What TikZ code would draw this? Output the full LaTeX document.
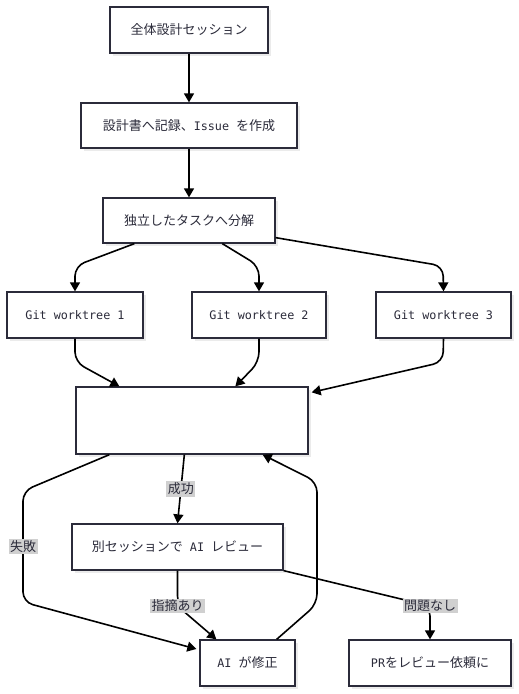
\documentclass[tikz,border=0pt]{standalone}
\usepackage{fontspec}
\setmainfont{Noto Sans CJK JP}
\newfontfamily\latmono{DejaVu Sans Mono}[Scale=0.98]
\usepackage{tikz}
\usetikzlibrary{arrows.meta,calc,positioning,shadows}
\definecolor{boxline}{HTML}{2B2B3A}
\definecolor{lblbg}{HTML}{D0D0D0}
\newcommand{\lt}[1]{{\latmono\fontsize{12}{15}\selectfont #1}}
\tikzset{
  box/.style={draw=boxline,line width=1.3pt,fill=white,text=boxline,inner sep=0pt,
    font=\fontsize{13}{15}\selectfont,
    drop shadow={shadow xshift=2.5pt,shadow yshift=-2.5pt,fill=black,opacity=0.08}},
  flow/.style={line width=1.6pt,-{Triangle[length=9pt,width=10pt]},rounded corners=10pt},
  lbl/.style={rectangle,sharp corners,fill=lblbg,inner sep=1.5pt,text=boxline,font=\fontsize{13}{15}\selectfont}
}
\begin{document}
\begin{tikzpicture}[x=1pt,y=-1pt]
\useasboundingbox[fill=white] (0,0) rectangle (519,694);
\node[box,minimum width=158pt,minimum height=46pt] (kickoff) at (189,30) {全体設計セッション};
\node[box,minimum width=216pt,minimum height=45pt] (record) at (189,125.5) {設計書へ記録、\lt{Issue }を作成};
\node[box,minimum width=172pt,minimum height=45pt] (split) at (189,220.5) {独立したタスクへ分解};
\node[box,minimum width=136pt,minimum height=46pt] (wt1) at (75,315) {\lt{Git worktree 1}};
\node[box,minimum width=134pt,minimum height=46pt] (wt2) at (259,315) {\lt{Git worktree 2}};
\node[box,minimum width=135pt,minimum height=46pt] (wt3) at (443.5,315) {\lt{Git worktree 3}};
\node[box,minimum width=232pt,minimum height=67pt] (impl) at (192,420.5) {};
\node[box,minimum width=211pt,minimum height=46pt] (review) at (177.5,547) {別セッションで\lt{ AI }レビュー};
\node[box,minimum width=95pt,minimum height=46pt] (fix) at (247.5,663) {\lt{AI }が修正};
\node[box,minimum width=162pt,minimum height=46pt] (pr) at (430,663) {\lt{PR}をレビュー依頼に};

\draw[flow] (kickoff) -- (record);
\draw[flow] (record) -- (split);
\draw[flow] ($(split.south west)+(32,0)$) -- (75,266) -- (wt1.north);
\draw[flow] ($(split.south west)+(120,0)$) -- (259,266) -- (wt2.north);
\draw[flow] ($(split.south east)+(0,-6)$) -- (443,266) -- (wt3.north);
\draw[flow] (wt1.south) -- (75,362) -- ($(impl.north west)+(44,0)$);
\draw[flow] (wt2.south) -- (259,362) -- ($(impl.north west)+(160,0)$);
\draw[flow] (wt3.south) -- (443,362) -- ($(impl.north east)+(3,6)$);
\draw[flow] ($(impl.south west)+(109,0)$) -- node[lbl] {成功} (review.north);
\draw[flow] ($(impl.south west)+(34,0)$) -- (23,491) -- node[lbl] {失敗} (23,602) -- ($(fix.west)+(-3,-14)$);
\draw[flow] (review.south) -- (177.5,606) node[lbl] {指摘あり} -- ($(fix.north west)+(17,0)$);
\draw[flow] (review.south east) -- (430,606) node[lbl] {問題なし} -- (pr.north);
\draw[flow] ($(fix.north east)+(-19,0)$) -- (317,604) -- (317,482) -- ($(impl.south east)+(-46,0)$);
\end{tikzpicture}
\end{document}
